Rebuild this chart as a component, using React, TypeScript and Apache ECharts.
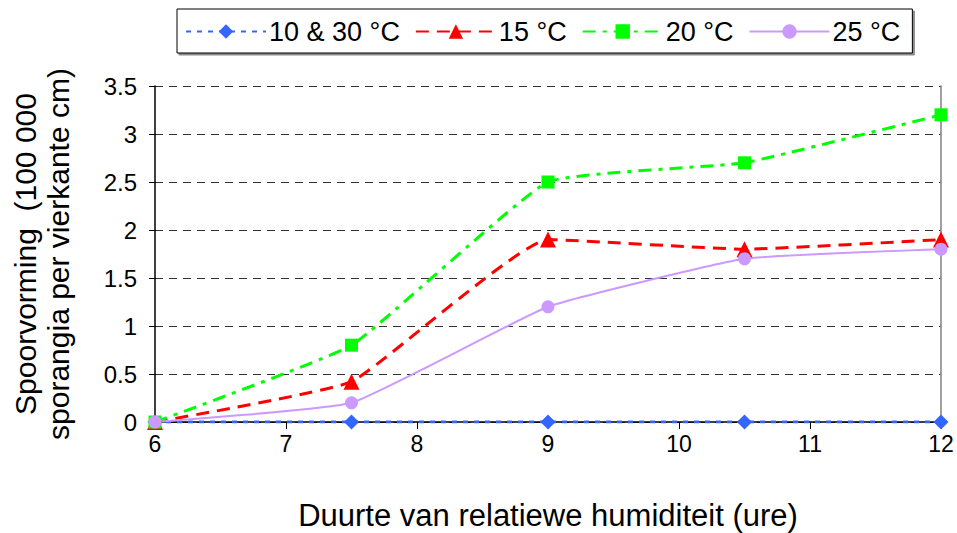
import React, { useEffect, useRef } from "react";
import * as echarts from "echarts";

// Duration of relative humidity (hours)
const hours = [6, 7.5, 9, 10.5, 12];

// Sporulation (100 000 sporangia per square cm) per temperature
const temp10and30 = [0, 0, 0, 0, 0];
const temp15 = [0, 0.42, 1.9, 1.8, 1.9];
const temp20 = [0, 0.8, 2.5, 2.7, 3.2];
const temp25 = [0, 0.2, 1.2, 1.7, 1.8];

const seriesNames = ["10 & 30 °C", "15 °C", "20 °C", "25 °C"];

const FONT = "'Liberation Sans', Arial, sans-serif";

const pairs = (ys: number[]) => hours.map((h, i) => [h, ys[i]]);

export default function App() {
  const ref = useRef<HTMLDivElement>(null);

  useEffect(() => {
    if (!ref.current) return;
    const chart = echarts.init(ref.current, undefined, { renderer: "svg" });
    chart.setOption({
      animation: false,
      backgroundColor: "#ffffff",
      textStyle: { fontFamily: FONT },
      grid: { left: 155, right: 16, top: 86, bottom: 111, outerBoundsMode: "none" },
      legend: {
        left: 177,
        top: 9,
        padding: [9, 12, 8, 8],
        itemWidth: 80,
        itemHeight: 18,
        itemGap: 15,
        borderColor: "#000",
        borderWidth: 1,
        backgroundColor: "#fff",
        shadowColor: "rgba(0,0,0,0.45)",
        shadowBlur: 1,
        shadowOffsetX: 2,
        shadowOffsetY: 2,
        textStyle: { fontFamily: FONT, fontSize: 27, color: "#000", padding: [0, 0, 0, -2] },
        data: seriesNames,
      },
      xAxis: {
        type: "value",
        min: 6,
        max: 12,
        interval: 1,
        name: "Duurte van relatiewe humiditeit (ure)",
        nameLocation: "middle",
        nameGap: 78,
        nameTextStyle: { fontFamily: FONT, fontSize: 31, color: "#000" },
        axisLine: { show: true, onZero: false, lineStyle: { color: "#000", width: 1.5 } },
        axisTick: { show: true, inside: false, length: 7, lineStyle: { color: "#000" } },
        axisLabel: { fontFamily: FONT, fontSize: 23, color: "#000", margin: 10 },
        splitLine: { show: false },
      },
      yAxis: [
        {
          type: "value",
          min: 0,
          max: 3.5,
          interval: 0.5,
          name: "Spoorvorming  (100 000\nsporangia per vierkante cm)",
          nameLocation: "middle",
          nameGap: 80,
          nameRotate: 90,
          nameTextStyle: { fontFamily: FONT, fontSize: 30, color: "#000", lineHeight: 33 },
          axisLine: { show: true, lineStyle: { color: "#000", width: 1.5 } },
          axisTick: { show: true, inside: false, length: 6, lineStyle: { color: "#000" } },
          axisLabel: { fontFamily: FONT, fontSize: 24, color: "#000", margin: 18 },
          splitLine: { show: true, lineStyle: { color: "#333", type: [8, 6], width: 1 } },
        },
        {
          type: "value",
          min: 0,
          max: 3.5,
          interval: 0.5,
          position: "right",
          axisLine: { show: true, lineStyle: { color: "#808080", width: 1.5 } },
          axisTick: { show: false },
          axisLabel: { show: false },
          splitLine: { show: false },
        },
      ],
      series: [
        {
          name: seriesNames[0],
          type: "line",
          data: pairs(temp10and30),
          symbol: "diamond",
          symbolSize: 15,
          itemStyle: { color: "#3366FF" },
          lineStyle: { color: "#3366FF", width: 3, type: [5, 6] },
        },
        {
          name: seriesNames[1],
          type: "line",
          data: pairs(temp15),
          smooth: 0.12,
          symbol: "triangle",
          symbolSize: 16,
          itemStyle: { color: "#FF0000" },
          lineStyle: { color: "#FF0000", width: 3, type: [13, 8] },
        },
        {
          name: seriesNames[2],
          type: "line",
          data: pairs(temp20),
          smooth: 0.12,
          symbol: "rect",
          symbolSize: 13,
          itemStyle: { color: "#00FF00" },
          lineStyle: { color: "#00FF00", width: 3, type: [13, 7, 4, 7] },
        },
        {
          name: seriesNames[3],
          type: "line",
          data: pairs(temp25),
          smooth: 0.12,
          symbol: "circle",
          symbolSize: 13,
          itemStyle: { color: "#CC99FF" },
          lineStyle: { color: "#CC99FF", width: 2 },
        },
      ],
    });
    return () => chart.dispose();
  }, []);

  return (
    <div
      ref={ref}
      style={{ position: "fixed", left: 0, top: 0, width: 957, height: 533 }}
    />
  );
}
